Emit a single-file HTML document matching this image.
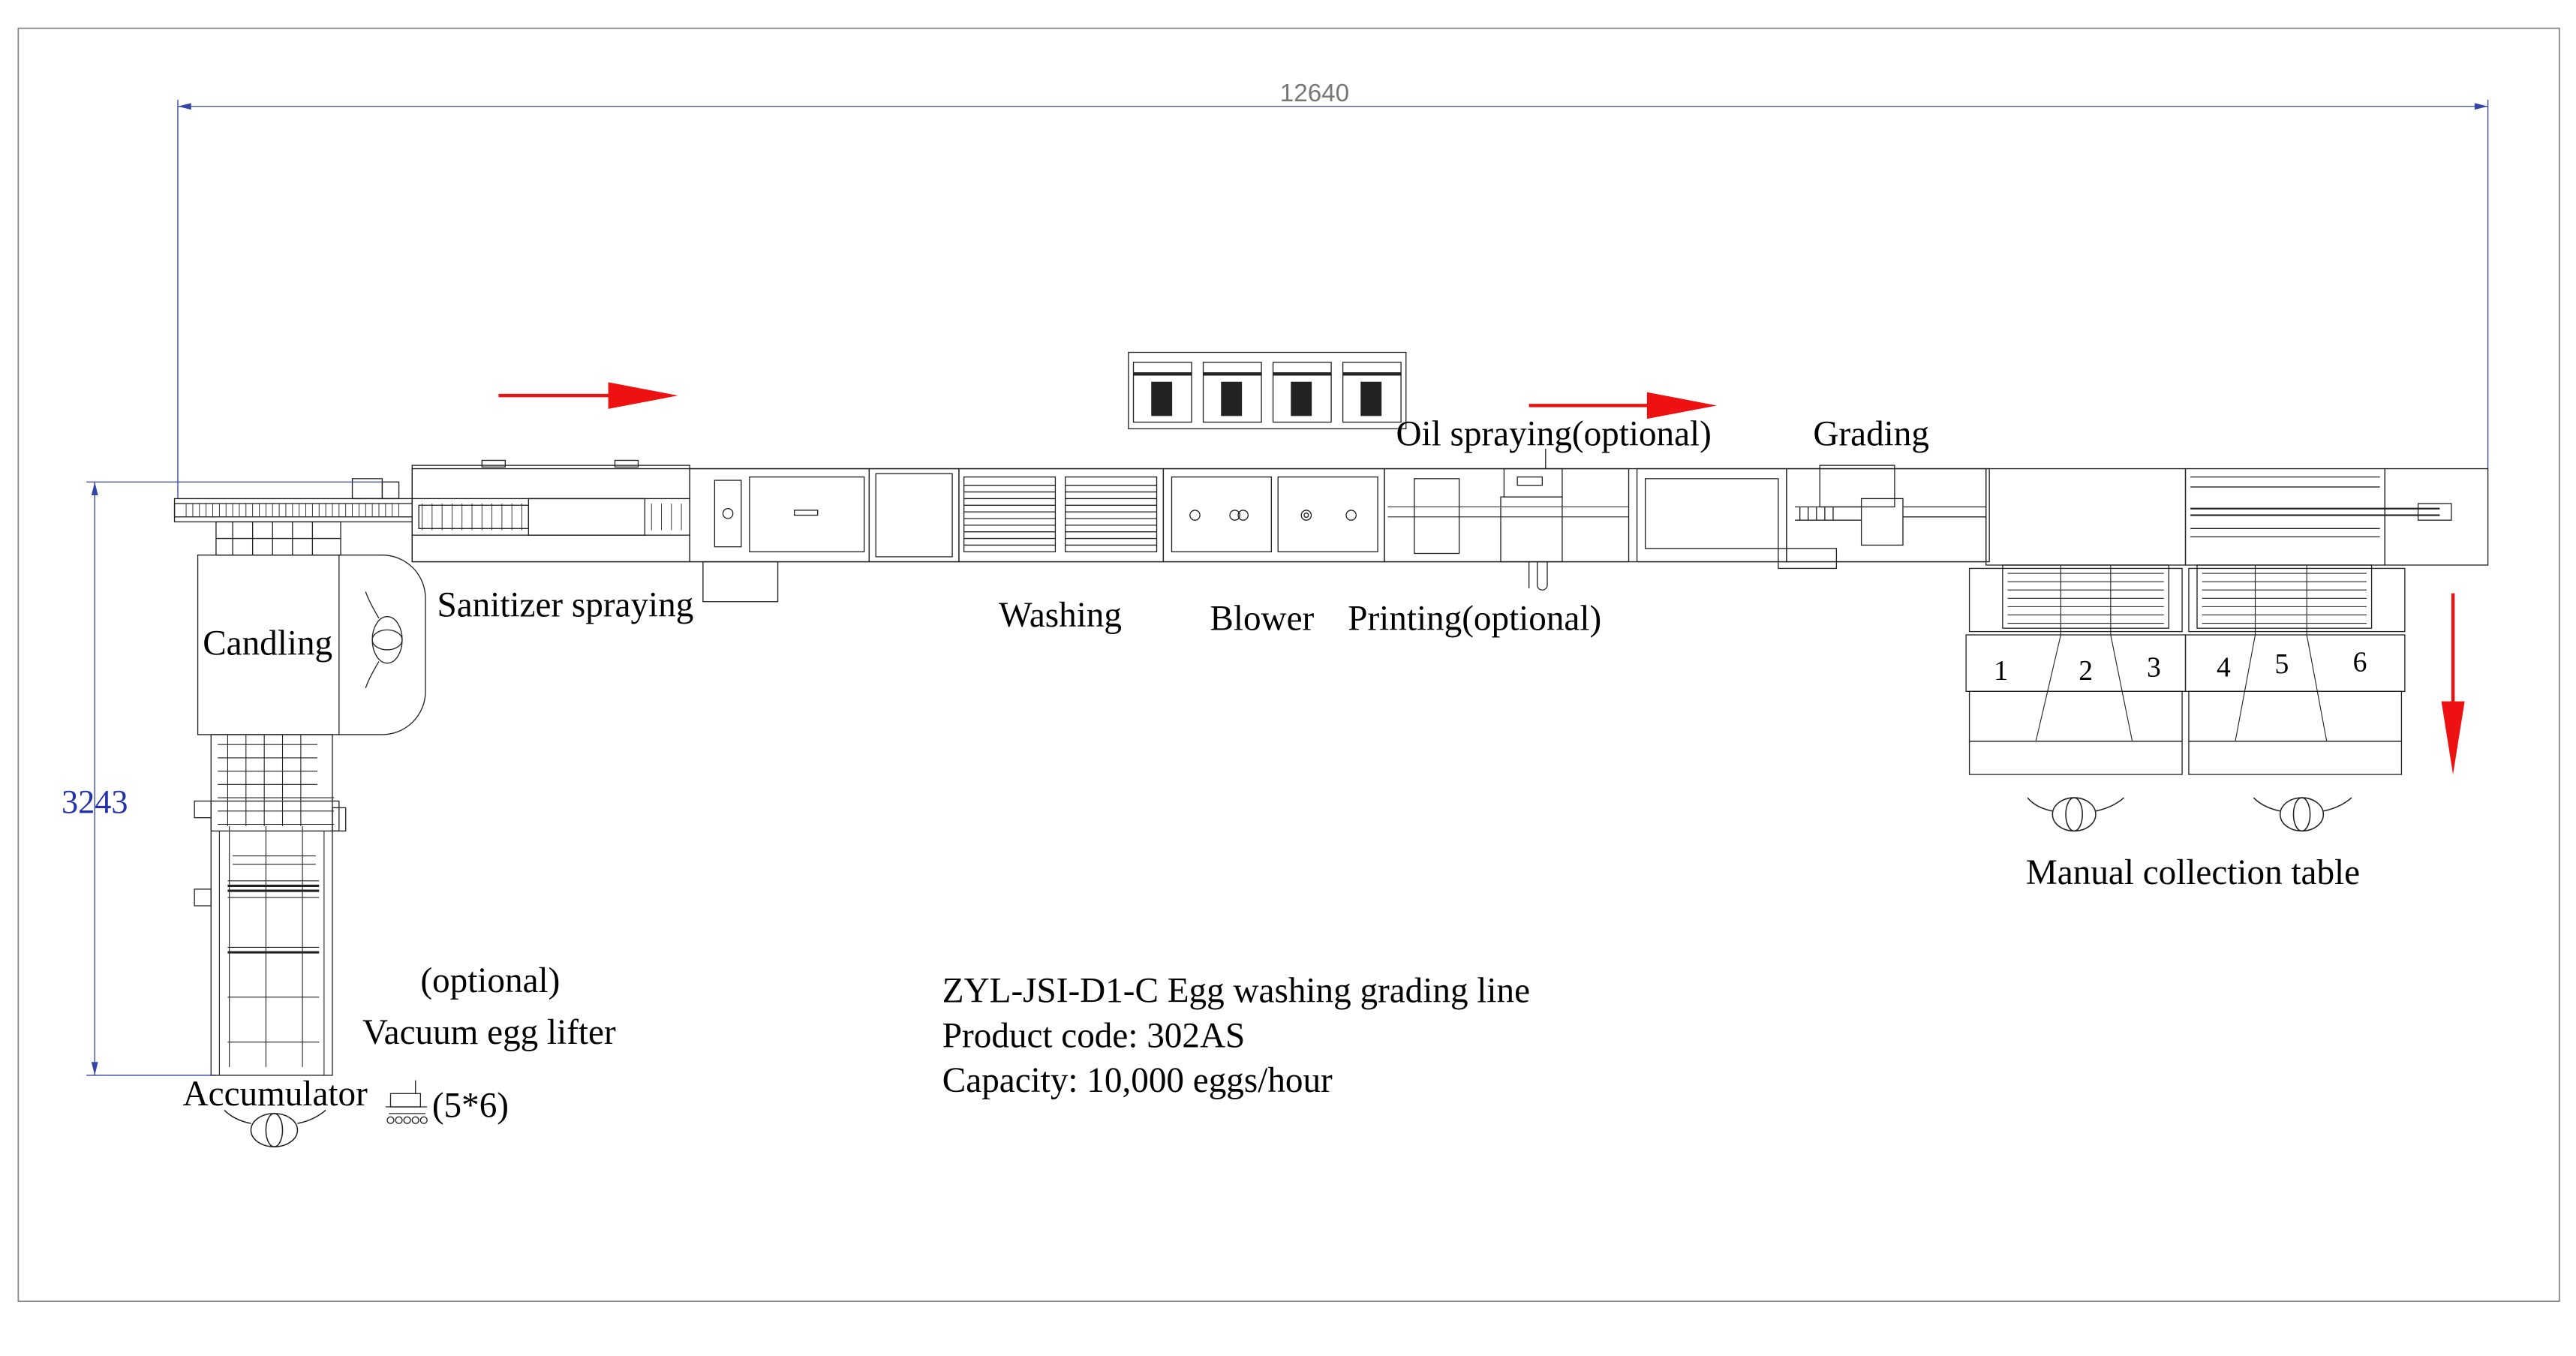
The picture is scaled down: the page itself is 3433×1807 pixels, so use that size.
<!DOCTYPE html>
<html><head><meta charset="utf-8"><style>
html,body{margin:0;padding:0;background:#fff;}
svg{display:block;}
text{font-family:"Liberation Serif",serif;fill:#000;}
</style></head><body>
<svg width="3433" height="1807" viewBox="0 0 1550 815.9" preserveAspectRatio="none" xmlns="http://www.w3.org/2000/svg">
<g fill="none" stroke="#222" stroke-width="0.6">
<rect x="11" y="17" width="1529" height="766" stroke="#888" stroke-width="0.8"/>
<g stroke="#3344aa" stroke-width="0.6">
<line x1="107" y1="64" x2="1497" y2="64"/>
<line x1="107" y1="60" x2="107" y2="300"/>
<line x1="1497" y1="60" x2="1497" y2="282"/>
<line x1="57" y1="290" x2="57" y2="647"/>
<line x1="52" y1="290" x2="230" y2="290"/>
<line x1="52" y1="647" x2="130" y2="647"/>
</g>
<path d="M107 64 l8 -2 v4z M1497 64 l-8 -2 v4z M57 290 l-2 8 h4z M57 647 l-2 -8 h4z" fill="#3344aa" stroke="none"/>

<rect x="105" y="300" width="143" height="14"/>
<rect x="105" y="303" width="143" height="8"/>
<g stroke-width="0.4"><path d="M112 303v8M116 303v8M120 303v8M124 303v8M128 303v8M132 303v8M136 303v8M140 303v8M144 303v8M148 303v8M152 303v8M156 303v8M160 303v8M164 303v8M168 303v8M172 303v8M176 303v8M180 303v8M184 303v8M188 303v8M192 303v8M196 303v8M200 303v8M204 303v8M208 303v8M212 303v8M216 303v8M220 303v8M224 303v8M228 303v8M232 303v8M236 303v8M240 303v8"/></g>
<rect x="212" y="288" width="18" height="12"/>
<rect x="230" y="290" width="10" height="10"/>
<rect x="130" y="314" width="75" height="20"/>
<path d="M140 314v20M152 314v20M164 314v20M176 314v20M188 314v20M130 324h75"/>

<path d="M119 334 H204 V442 H119 Z"/>
<path d="M204 334 H230 A26 26 0 0 1 256 360 V416 A26 26 0 0 1 230 442 H204"/>
<ellipse cx="233" cy="385" rx="9" ry="14"/>
<ellipse cx="233" cy="385" rx="9" ry="6"/>
<path d="M228 372 Q222 362 220 356 M228 398 Q222 408 220 414"/>

<rect x="127" y="442" width="73" height="205"/>
<g stroke-width="0.5">
<path d="M131 448h60M131 456h60M131 464h60M131 472h60M131 480h70M131 488h70M131 496h70"/>
<path d="M137 442v55M148 442v55M159 442v55M170 442v55M181 442v55"/>
<path d="M138 497v145M160 497v145M182 497v145M132 500v147M195 500v147"/>
<path d="M137 530h55M137 540h55M137 570h55M137 600h55M137 627h55"/>
<path d="M140 515h50M140 520h50"/>
</g>
<path d="M137 533h55M137 536h55M137 573h55" stroke-width="1.4"/>
<rect x="117" y="482" width="10" height="10"/><rect x="117" y="535" width="10" height="10"/><rect x="200" y="486" width="8" height="14"/>
<rect x="127" y="482" width="77" height="18"/>

<rect x="248" y="282" width="949" height="56"/>
<rect x="248" y="280" width="167" height="58"/>
<rect x="248" y="300" width="167" height="22"/>
<rect x="318" y="300" width="70" height="22"/>
<g stroke-width="0.4"><path d="M254 303v16M260 303v16M266 303v16M272 303v16M278 303v16M284 303v16M290 303v16M296 303v16M302 303v16M308 303v16M314 303v16M392 303v16M398 303v16M404 303v16M410 303v16"/></g>
<rect x="252" y="304" width="66" height="14"/>
<rect x="423" y="338" width="45" height="24"/>
<rect x="415" y="282" width="108" height="56"/>
<rect x="430" y="289" width="16" height="40"/>
<circle cx="438" cy="309" r="3"/>
<rect x="451" y="287" width="69" height="45"/>
<rect x="478" y="307" width="14" height="3"/>
<rect x="523" y="282" width="54" height="56"/>
<rect x="527" y="285" width="46" height="50"/>
<rect x="577" y="282" width="123" height="56"/>
<rect x="580" y="287" width="55" height="45"/>
<rect x="641" y="287" width="55" height="45"/>
<g stroke-width="0.6"><path d="M580 292h55M580 296h55M580 300h55M580 304h55M580 308h55M580 312h55M580 316h55M580 320h55M580 324h55M580 328h55M641 292h55M641 296h55M641 300h55M641 304h55M641 308h55M641 312h55M641 316h55M641 320h55M641 324h55M641 328h55"/></g>
<rect x="700" y="282" width="133" height="56"/>
<rect x="705" y="287" width="60" height="45"/>
<rect x="769" y="287" width="60" height="45"/>
<circle cx="719" cy="310" r="3"/><circle cx="743" cy="310" r="3"/><circle cx="748" cy="310" r="3"/><circle cx="786" cy="310" r="3"/><circle cx="786" cy="310" r="1.3"/><circle cx="813" cy="310" r="3"/>
<rect x="833" y="282" width="147" height="56"/>
<rect x="851" y="288" width="27" height="45"/>
<rect x="905" y="282" width="35" height="17"/>
<rect x="913" y="287" width="15" height="5"/>
<rect x="903" y="299" width="37" height="39"/>
<path d="M835 305h145M835 311h145" stroke-width="0.5"/>
<path d="M920 338v16M925 338 v14 a3 3 0 0 0 6 0 v-14"/>
<path d="M930 270v12"/>
<rect x="985" y="282" width="90" height="56"/>
<rect x="990" y="288" width="80" height="42"/>
<rect x="1075" y="282" width="120" height="56"/>
<rect x="1095" y="280" width="45" height="25"/>
<rect x="1120" y="300" width="25" height="28"/>
<rect x="1070" y="330" width="35" height="12"/>
<path d="M1080 305h40M1080 313h40M1145 305h50M1145 311h50" stroke-width="0.6"/>
<path d="M1083 305v8M1088 305v8M1093 305v8M1098 305v8M1103 305v8"/>
<rect x="1195" y="282" width="120" height="58"/>
<rect x="1315" y="282" width="120" height="58"/>
<path d="M1318 287h114M1318 293h114M1318 318h114M1318 323h114"/>
<path d="M1318 306h150M1318 310h150" stroke-width="1"/>
<rect x="1435" y="282" width="62" height="58"/>
<rect x="1455" y="303" width="20" height="10"/>
<rect x="290" y="277" width="14" height="4"/><rect x="370" y="277" width="14" height="4"/>

<rect x="679" y="212" width="167" height="46"/>
<g>
<rect x="682" y="218" width="35" height="36"/><rect x="724" y="218" width="35" height="36"/><rect x="766" y="218" width="35" height="36"/><rect x="808" y="218" width="35" height="36"/>
<path d="M682 225h35M724 225h35M766 225h35M808 225h35" stroke-width="2"/>
<rect x="693" y="230" width="12" height="20" fill="#222"/><rect x="735" y="230" width="12" height="20" fill="#222"/><rect x="777" y="230" width="12" height="20" fill="#222"/><rect x="819" y="230" width="12" height="20" fill="#222"/>
</g>

<g>
<rect x="1185" y="342" width="128" height="38"/>
<rect x="1205" y="340" width="100" height="38"/>
<path d="M1208 345h94M1208 350h94M1208 355h94M1208 360h94M1208 365h94M1208 370h94M1208 375h94" stroke-width="0.5"/>
<rect x="1317" y="342" width="130" height="38"/>
<rect x="1322" y="340" width="105" height="38"/>
<path d="M1325 345h99M1325 350h99M1325 355h99M1325 360h99M1325 365h99M1325 370h99M1325 375h99" stroke-width="0.5"/>
<path d="M1240 340v42M1270 340v42M1357 340v42M1388 340v42" stroke-width="0.5"/>
<rect x="1183" y="382" width="132" height="34"/>
<rect x="1315" y="382" width="132" height="34"/>
<rect x="1185" y="416" width="128" height="30"/>
<rect x="1317" y="416" width="128" height="30"/>
<rect x="1185" y="446" width="128" height="20"/>
<rect x="1317" y="446" width="128" height="20"/>
<path d="M1240 382 L1225 446 M1270 382 L1283 446 M1357 382 L1345 446 M1388 382 L1400 446" stroke-width="0.5"/>
</g>

<g stroke-width="0.7">
<ellipse cx="1248" cy="490" rx="13" ry="10"/><ellipse cx="1248" cy="490" rx="5" ry="10"/>
<path d="M1235 488 Q1225 486 1220 480 M1261 488 Q1271 486 1278 480"/>
<ellipse cx="1385" cy="490" rx="13" ry="10"/><ellipse cx="1385" cy="490" rx="5" ry="10"/>
<path d="M1372 488 Q1362 486 1356 480 M1398 488 Q1408 486 1415 480"/>
<ellipse cx="165" cy="680" rx="14" ry="10"/><ellipse cx="165" cy="680" rx="5" ry="10"/>
<path d="M151 676 Q141 674 135 668 M179 676 Q189 674 196 668"/>
</g>
<g stroke-width="0.6"><rect x="235" y="658" width="18" height="8"/><path d="M232 666h25M234 670h22"/><circle cx="235" cy="674" r="2"/><circle cx="240" cy="674" r="2"/><circle cx="245" cy="674" r="2"/><circle cx="250" cy="674" r="2"/><circle cx="255" cy="674" r="2"/><path d="M250 658v-8"/></g>
</g>

<g fill="#ee1111">
<rect x="300" y="237" width="70" height="2"/><path d="M366 230 L408 238 L366 246Z"/>
<rect x="920" y="243" width="75" height="2"/><path d="M991 236 L1033 244 L991 252Z"/>
<rect x="1475" y="357" width="2" height="70"/><path d="M1469 422 L1476 466 L1483 422Z"/>
</g>

<text x="791" y="61" font-size="15" style="fill:#777;font-family:'Liberation Sans',sans-serif" text-anchor="middle">12640</text>
<text x="57" y="489" font-size="20" style="fill:#2233aa" text-anchor="middle">3243</text>
<g font-size="21.3">
<text x="840" y="268">Oil spraying(optional)</text>
<text x="1091" y="268">Grading</text>
<text x="263" y="371">Sanitizer spraying</text>
<text x="122" y="394">Candling</text>
<text x="601" y="377">Washing</text>
<text x="728" y="379">Blower</text>
<text x="811" y="379">Printing(optional)</text>
<text x="1219" y="532">Manual collection table</text>
<text x="253" y="597">(optional)</text>
<text x="218" y="628">Vacuum egg lifter</text>
<text x="110" y="665">Accumulator</text>
<text x="260" y="672">(5*6)</text>
<text x="567" y="603">ZYL-JSI-D1-C Egg washing grading line</text>
<text x="567" y="630">Product code: 302AS</text>
<text x="567" y="657">Capacity: 10,000 eggs/hour</text>
</g>
<g font-size="17" style="font-family:'Liberation Sans',sans-serif">
<text x="1204" y="409" text-anchor="middle">1</text>
<text x="1255" y="409" text-anchor="middle">2</text>
<text x="1296" y="407" text-anchor="middle">3</text>
<text x="1338" y="407" text-anchor="middle">4</text>
<text x="1373" y="405" text-anchor="middle">5</text>
<text x="1420" y="404" text-anchor="middle">6</text>
</g>
</svg>
</body></html>
